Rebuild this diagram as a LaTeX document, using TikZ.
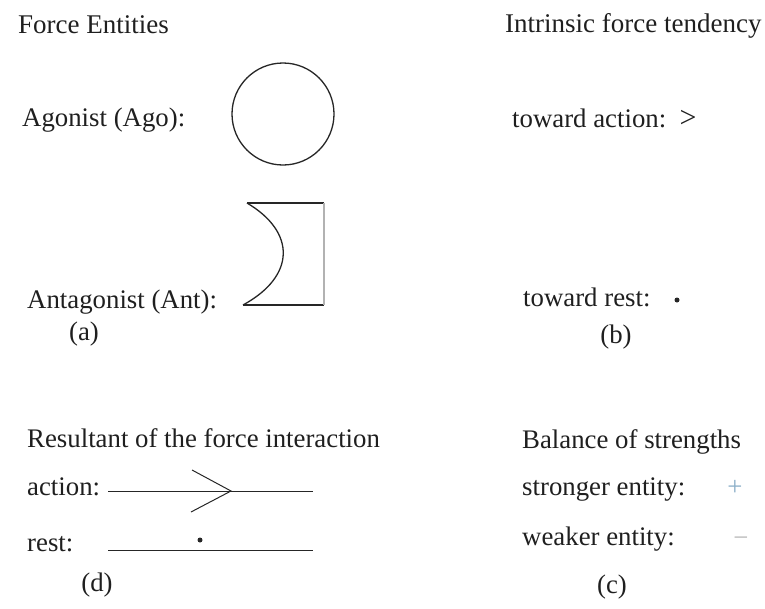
\documentclass[tikz,border=0pt]{standalone}
\usepackage{fontspec}
\setmainfont{Liberation Serif}
\definecolor{plusblue}{RGB}{140,175,200}
\definecolor{minusgray}{RGB}{185,185,185}
\begin{document}
\begin{tikzpicture}[x=1pt,y=-1pt,
  txt/.style={inner sep=0pt,anchor=base west,font=\fontsize{26.8}{30}\selectfont,text=black!88},
  head/.style={txt,font=\fontsize{27}{31}\selectfont},
  lbl/.style={inner sep=0pt,anchor=center,font=\fontsize{26.8}{30}\selectfont,text=black!88},
  shapeline/.style={line width=1.3pt,draw=black!85},
  thinline/.style={line width=1pt,draw=black!85},
  dotmark/.style={circle,fill=black!85,inner sep=0pt,minimum size=5pt}]
\useasboundingbox (0,0) rectangle (765,608);
% (a) force entities
\node[head] (fe) at (18,33) {Force Entities};
\node[txt] (ago) at (22,126) {Agonist (Ago):};
\node[circle,shapeline,minimum size=102pt,inner sep=0pt] (agoc) at (283,114) {};
\node[txt] (ant) at (27,308) {Antagonist (Ant):};
\coordinate (antTL) at (247,203);
\coordinate (antTR) at (324,203);
\coordinate (antBL) at (243,305);
\coordinate (antBR) at (324,305);
\draw[shapeline] (antBL) -- (antBR);
\draw[shapeline] (antTL) -- (antTR);
\draw[line width=1.3pt,draw=black!30] (antTR) -- (antBR);
\draw[shapeline] (antTL) .. controls (296,232) and (296,276) .. (antBL);
\node[lbl] (a) at (84,334) {(a)};
% (b) intrinsic force tendency
\node[head] (ift) at (505,32) {Intrinsic force tendency};
\node[txt] (ta) at (512,127) {toward action:};
\node[lbl,font=\fontsize{30}{34}\selectfont] (gt) at (688,119) {>};
\node[txt] (tr) at (523,306) {toward rest:};
\node[dotmark] (trd) at (677,300) {};
\node[lbl] (b) at (616,337) {(b)};
% (d) resultant
\node[txt] (res) at (27,447) {Resultant of the force interaction};
\node[txt] (act) at (27,495) {action:};
\coordinate (actL) at (108,491);
\coordinate (actR) at (313,491);
\coordinate (chT) at (192,470);
\coordinate (chTip) at (231,491);
\coordinate (chB) at (191,512);
\draw[thinline] (actL) -- (actR);
\draw[thinline] (chT) -- (chTip) -- (chB);
\node[txt] (rest) at (27,551) {rest:};
\coordinate (restL) at (108,550);
\coordinate (restR) at (313,550);
\draw[thinline] (restL) -- (restR);
\node[dotmark] (restd) at (200,540) {};
\node[lbl] (d) at (97,585) {(d)};
% (c) balance of strengths
\node[txt] (bal) at (522,448) {Balance of strengths};
\node[txt] (str) at (522,495) {stronger entity:};
\node[lbl,text=plusblue] (plus) at (735,488) {+};
\node[txt] (weak) at (522,545) {weaker entity:};
\node[lbl,text=minusgray] (minus) at (741,542) {−};
\node[lbl] (c) at (612,587) {(c)};
\end{tikzpicture}
\end{document}
